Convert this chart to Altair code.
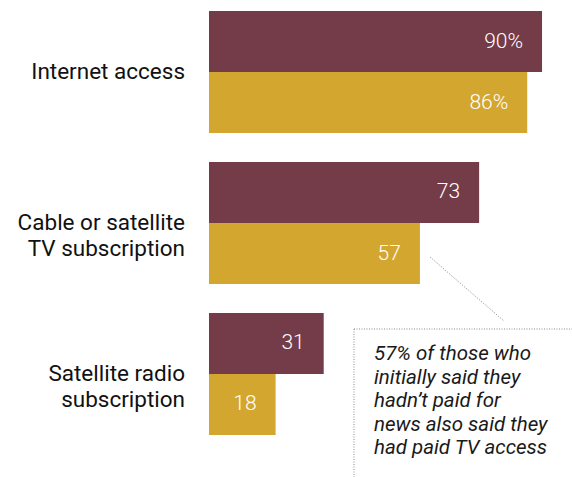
import altair as alt
import pandas as pd

categories = ["Internet access", "Cable or satellite\nTV subscription", "Satellite radio\nsubscription"]
series_names = ["Series 1", "Series 2"]
series_1 = [90, 73, 31]
series_2 = [86, 57, 18]
labels_1 = ["90%", "73", "31"]
labels_2 = ["86%", "57", "18"]
colors = ["#733c48", "#d3a630"]
note = "57% of those who\ninitially said they\nhadn\u2019t paid for\nnews also said they\nhad paid TV access"

rows = []
for i, c in enumerate(categories):
    rows.append({"category": c, "series": series_names[0], "value": series_1[i], "label": labels_1[i]})
    rows.append({"category": c, "series": series_names[1], "value": series_2[i], "label": labels_2[i]})
df = pd.DataFrame(rows)

FONT = "Roboto"

y_enc = alt.Y("category:N", sort=categories, axis=None,
              scale=alt.Scale(paddingInner=0.192, paddingOuter=0))
x_enc = alt.X("value:Q", axis=None, scale=alt.Scale(domain=[0, 98.1], nice=False))
yoff = alt.YOffset("series:N", sort=series_names, scale=alt.Scale(paddingInner=0, paddingOuter=0))

bars = alt.Chart(df).mark_bar().encode(
    x=x_enc, y=y_enc, yOffset=yoff,
    color=alt.Color("series:N", scale=alt.Scale(domain=series_names, range=colors), legend=None),
)

values = alt.Chart(df).mark_text(align="right", baseline="middle", dx=-19, color="white",
                                 font=FONT, fontSize=21, fontWeight=300).encode(
    x=x_enc, y=y_enc, yOffset=yoff, text="label:N"
)

cat_df = pd.DataFrame({"category": categories})
cat_labels = alt.Chart(cat_df).mark_text(align="right", baseline="middle", lineBreak="\n",
                                         lineHeight=26, font=FONT, fontSize=22.5,
                                         color="#111111").encode(
    y=y_enc, x=alt.value(-24), text="category:N"
)

one = pd.DataFrame({"t": [note]})
note_text = alt.Chart(one).mark_text(align="left", baseline="alphabetic", lineBreak="\n",
                                     lineHeight=23.5, font=FONT, fontSize=20.5,
                                     fontStyle="italic", color="#1a1a1a").encode(
    x=alt.value(165), y=alt.value(349), text="t:N"
)

dot = dict(color="#8a8a8a", strokeDash=[1, 1.5], strokeWidth=1)
box_top = alt.Chart(one).mark_rule(**dot).encode(
    x=alt.value(145), x2=alt.value(363), y=alt.value(318)
)
box_left = alt.Chart(one).mark_rule(**dot).encode(
    x=alt.value(145), y=alt.value(318), y2=alt.value(466)
)
leader = alt.Chart(one).mark_rule(**dot).encode(
    x=alt.value(221), y=alt.value(246), x2=alt.value(295), y2=alt.value(310)
)

chart = alt.layer(bars, values, cat_labels, note_text, box_top, box_left, leader).properties(
    width=363, height=424,
    autosize=alt.AutoSizeParams(type="none"),
    padding={"left": 209, "top": 11, "right": 0, "bottom": 42},
).configure(background="white").configure_view(strokeWidth=0, strokeOpacity=0)

chart.save("out.html", embed_options={"renderer": "svg", "actions": False})
